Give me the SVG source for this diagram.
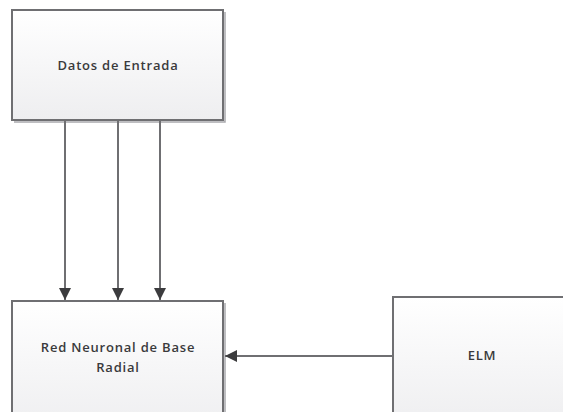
<svg xmlns="http://www.w3.org/2000/svg" width="563" height="412" viewBox="0 0 563 412">
  <style>
    .box { fill: url(#boxFill); stroke: #6f6f72; stroke-width: 2; }
    .shade { fill: none; stroke: #a9a9ad; stroke-width: 1.5; }
    .lbl { font-family: "Open Sans", "Liberation Sans", sans-serif; font-size: 13px; font-weight: 600; letter-spacing: 0.8px; fill: #3a3a3c; text-anchor: middle; }
    .wire { stroke: #6f6f72; stroke-width: 2; fill: none; marker-end: url(#arrow); }
  </style>
  <defs>
    <linearGradient id="boxFill" x1="0" y1="0" x2="0" y2="1">
      <stop offset="0" stop-color="#ffffff"/>
      <stop offset="1" stop-color="#eeeef0"/>
    </linearGradient>
    <marker id="arrow" viewBox="0 0 10 10" refX="10" refY="5" markerWidth="6" markerHeight="6" markerUnits="strokeWidth" orient="auto">
      <path d="M0,0 L10,5 L0,10 z" fill="#3c3c3e"/>
    </marker>
  </defs>
  <rect width="563" height="412" fill="#ffffff"/>

  <g id="datos-entrada">
    <path class="shade" d="M225,12 V122 H14"/>
    <rect class="box" x="12" y="10" width="211" height="110"/>
    <text class="lbl" x="118" y="70">Datos de Entrada</text>
  </g>

  <g id="red-neuronal">
    <path class="shade" d="M225,303 V412"/>
    <rect class="box" x="12" y="301" width="211" height="130"/>
    <text class="lbl" x="118" y="352">Red Neuronal de Base</text>
    <text class="lbl" x="118" y="372">Radial</text>
  </g>

  <g id="elm">
    <rect class="box" x="393" y="297" width="190" height="130"/>
    <text class="lbl" x="482" y="360">ELM</text>
  </g>

  <g id="connectors">
    <line class="wire" x1="65" y1="121" x2="65" y2="300"/>
    <line class="wire" x1="118" y1="121" x2="118" y2="300"/>
    <line class="wire" x1="160" y1="121" x2="160" y2="300"/>
    <line class="wire" x1="392" y1="356" x2="225" y2="356"/>
  </g>
</svg>
